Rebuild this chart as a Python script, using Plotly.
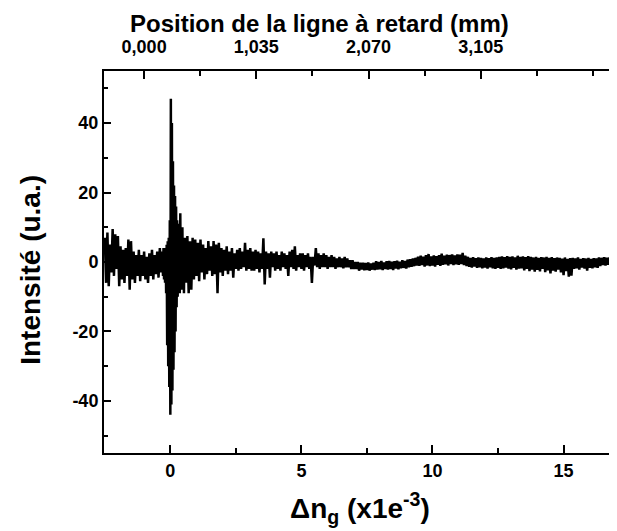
import plotly.graph_objects as go

# ---- signal (delay-line scan, uniform sampling per segment) ----
seg_a_start, seg_a_step = -2.50, 0.05
seg_a = [7, -6, 8.5, -7, 5, -3, 9.5, -4, 8, -2,
         7.5, -7, 4.5, -5, 3.5, -6, 4, -4, 6.5, -8,
         6, -5, 3, -6, 2, -4, 3.5, -5.5, 2, -4,
         3, -5, 1.5, -6, 2.5, -4, 3.5, -5, 2, -3.5,
         3, -4.5, 4, -3]

peak_start, peak_step = -0.30, 0.02
peak = [3, -4, 4, -5, 3, -6, 4, -9, 5, -24,
        6, -30, 7, -36, 12, -44, 47, -41, 40, -37,
        29, -31, 22, -26, 19, -20, 16, -13, 12, -10,
        11, -8, 10, -9, 14, -7, 9, -8, 10, -6,
        7, -9, 6, -5, 7, -6]

seg_b_start, seg_b_step = 0.65, 0.05
seg_b = [7.5, -9, 6, -8, 7, -5, 6.5, -4, 5.5, -5.5,
         6.5, -3, 5, -5, 4, -3.5, 6, -2.5, 4.5, -4,
         6, -3.5, 5, -9, 5.5, -3, 4, -4, 3.5, -2.5,
         4.5, -3.5, 3, -2.5, 4, -4.5, 2.5, -2, 3.5, -2.5,
         4, -2, 3, -1.5, 5.5, -2.5, 3.5, -2, 4, -2.5,
         3, -2.5, 3.5, -2, 3, -3, 2.5, -2, 6.8, -6.5,
         3, -2, 2.5, -4.5, 3, -1.5, 2.5, -2.5, 3, -2,
         2, -2.5, 3, -1.5, 2.5, -2, 2, -4, 3, -1.5,
         3.5, -2, 4.5, -2.5, 2, -1.5, 2.5, -2, 2.5, -2.5,
         2, -1.5, 2.5, -2, 1.5, -6, 1.5, -1, 4, -1.5,
         2.5, -2, 2, -1.5, 2.5, -1.5, 2, -2, 1.5, -1.5,
         2, -1.5, 1.5, -2, 1, -1.5, 1.5, -1.5, 1, -1.8,
         1.5, -1.5, 1, -1.5, 0.5, -2, 0.5, -2, 0, -2,
         0, -2.5, -0.2, -2.2]

seg_c_start, seg_c_step = 7.35, 0.05
seg_c = [-0.2, -2.4, -0.3, -2.3, -0.1, -2.5, -0.4, -2.2, -0.2, -2.3,
         0.2, -2.2, 0, -2.1, 0.3, -2.3, -0.1, -2, 0.2, -2.2,
         0.3, -2, 0.1, -2.3, 0.2, -1.9, 0.4, -2.1, 0.1, -1.8,
         0.5, -1.7, 0.3, -1.9, 0.7, -1.5, 0.8, -1.4, 1, -1.2,
         1.2, -1, 1.5, -1.1, 1.8, -0.9, 1.5, -1.3, 2, -1,
         2.3, -1.2, 1.6, -1, 1.9, -1.3, 1.7, -0.8, 2, -1.1,
         2.4, -0.8, 1.8, -0.7, 2.1, -1, 2, -0.6, 2.2, -0.9,
         1.9, -0.7, 2.2, -0.8, 2.1, -0.6, 2.6, -0.9, 1.8, -1.2,
         1.5, -1.4, 1.2, -1.6, 1.4, -1.3, 1.1, -1.7, 1.3, -1.5,
         1.2, -1.8, 1, -1.6, 1.3, -1.9, 1.1, -1.5, 1.4, -1.8,
         1.2, -2, 1.3, -1.7, 1.5, -2, 1.6, -1.8, 1.4, -1.6,
         1.7, -1.9, 1.5, -2.1, 1.6, -1.7, 1.3, -2.2, 1.8, -1.9,
         1.5, -1.8, 1.6, -2.4, 1.4, -2, 1.7, -2.6, 1.5, -2.2,
         1.3, -2.8, 1.5, -2.3, 1.2, -2.7, 1.4, -2, 1.3, -2.9,
         1.5, -2.4, 1.2, -3.3, 1.4, -2.5, 1.1, -2.8, 1.3, -2.2,
         1.2, -3, 1, -3.8, 1.3, -2.6, 0.9, -4.2, 1.1, -3.9,
         1.2, -2, 1, -1.8, 1.3, -2.2, 0.9, -1.6, 1.1, -1.9,
         1, -2.5, 1.2, -1.7, 0.9, -1.8, 1.1, -1.5, 1, -1.7,
         1.3, -1.2, 1.2, -0.9, 1.4, -1, 1.2, -0.8, 1.3, -0.9,
         1.2, -0.8, 1.3, -0.7]

# ---- axes ----
x_range = [-2.53, 17.0]
y_range = [-55, 55]
x_ticks = [0, 5, 10, 15]
x_tick_text = ["0", "5", "10", "15"]
y_ticks = [-40, -20, 0, 20, 40]
y_tick_text = ["-40", "-20", "0", "20", "40"]
top_tick_vals = [0.0, 1.035, 2.070, 3.105]
top_tick_text = ["0,000", "1,035", "2,070", "3,105"]
top_zero_dn = -1.0          # Δn value where delay position = 0 mm
top_mm_per_unit = 1.035 / 4.28

title_top = "Position de la ligne à retard (mm)"
title_x = "Δn<sub>g</sub> (x1e<sup>-3</sup>)"
title_y = "Intensité (u.a.)"


def grid(start, step, vals):
    return [round(start + i * step, 4) for i in range(len(vals))]


xs = (grid(seg_a_start, seg_a_step, seg_a) + grid(peak_start, peak_step, peak)
      + grid(seg_b_start, seg_b_step, seg_b) + grid(seg_c_start, seg_c_step, seg_c))
ys = seg_a + peak + seg_b + seg_c

top_range = [(v - top_zero_dn) * top_mm_per_unit for v in x_range]

FONT = "Liberation Sans, Arial, sans-serif"
TICKFONT = dict(family=FONT, size=18, weight="bold", color="black")
TITLEFONT = dict(family=FONT, size=24, weight="bold", color="black")
BIGTITLEFONT = dict(family=FONT, size=28, weight="bold", color="black")

fig = go.Figure()
fig.add_trace(go.Scatter(x=xs, y=ys, mode="lines",
                         line=dict(color="black", width=2.5),
                         showlegend=False, hoverinfo="skip"))
fig.add_trace(go.Scatter(x=top_range, y=[0, 0], xaxis="x2", mode="lines",
                         line=dict(width=0), opacity=0,
                         showlegend=False, hoverinfo="skip"))

# page body adds an 8 px offset, so the figure is sized/margined to compensate
fig.update_layout(
    width=609, height=523,
    margin=dict(l=96, r=1, t=63, b=78, autoexpand=False),
    paper_bgcolor="white", plot_bgcolor="white",
    font=dict(family=FONT, color="black"),
    xaxis=dict(
        range=x_range, tickvals=x_ticks, ticktext=x_tick_text,
        ticks="inside", ticklen=8, tickwidth=1.5,
        tickcolor="black", showline=True, linecolor="black", linewidth=2,
        showgrid=False, zeroline=False, mirror=False, automargin=False,
        tickfont=TICKFONT, ticklabelstandoff=0,
        minor=dict(ticks="inside", dtick=2.5, tick0=0, ticklen=5, tickwidth=1.5,
                   tickcolor="black", showgrid=False),
    ),
    xaxis2=dict(
        range=top_range, overlaying="x", side="top", anchor="y",
        tickvals=top_tick_vals, ticktext=top_tick_text,
        ticks="inside", ticklen=8, tickwidth=1.5, tickcolor="black",
        showline=True, linecolor="black", linewidth=2,
        showgrid=False, zeroline=False, automargin=False,
        tickfont=TICKFONT, ticklabelstandoff=9,
        minor=dict(ticks="inside", dtick=0.5175, tick0=0, ticklen=5, tickwidth=1.5,
                   tickcolor="black", showgrid=False),
    ),
    yaxis=dict(
        range=y_range, tickvals=y_ticks, ticktext=y_tick_text,
        ticks="inside", ticklen=7, tickwidth=1.5,
        tickcolor="black", showline=True, linecolor="black", linewidth=2,
        mirror="ticks", showgrid=False, zeroline=False, automargin=False,
        tickfont=TICKFONT,
        minor=dict(ticks="inside", dtick=10, tick0=0, ticklen=4, tickwidth=1.5,
                   tickcolor="black", showgrid=False),
    ),
    annotations=[
        dict(text=title_top, xref="paper", yref="paper", x=0.42, y=1.124,
             xanchor="center", yanchor="middle", showarrow=False, font=TITLEFONT),
        dict(text=title_y, xref="paper", yref="paper", x=-0.145, y=0.479,
             xanchor="center", yanchor="middle", textangle=-90, showarrow=False,
             font=BIGTITLEFONT),
        dict(text=title_x, xref="paper", yref="paper", x=0.5, y=-0.145,
             xanchor="center", yanchor="middle", showarrow=False,
             font=BIGTITLEFONT),
    ],
)

fig.write_html("out.html")
